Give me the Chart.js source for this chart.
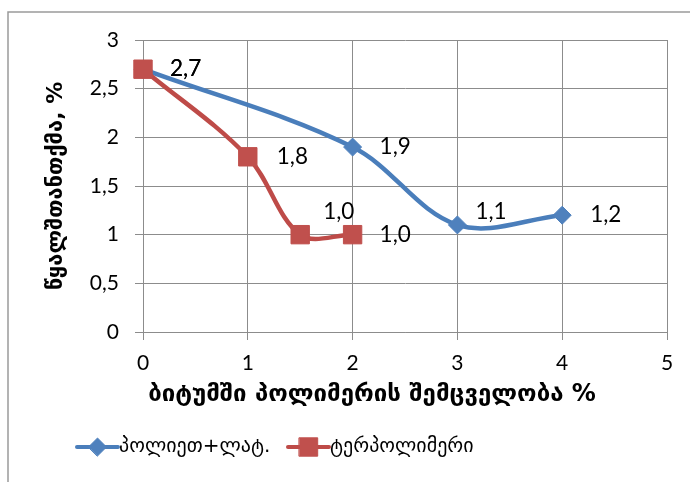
<!DOCTYPE html>
<html>
<head>
<meta charset="utf-8">
<script src="https://cdn.jsdelivr.net/npm/chart.js@4/dist/chart.umd.min.js"></script>
<style>
  html, body { margin: 0; padding: 0; background: #ffffff; }
  #wrap { width: 690px; height: 482px; }
</style>
</head>
<body>
<div id="wrap"><canvas id="c" width="690" height="482"></canvas></div>
<script>
// Polymer content in bitumen (%) vs water absorption (%)
const blueX = [0, 2, 3, 4];
const blueY = [2.7, 1.9, 1.1, 1.2];
const redX = [0, 1, 1.5, 2];
const redY = [2.7, 1.8, 1.0, 1.0];
const seriesNames = ['პოლიეთ+ლატ.', 'ტერპოლიმერი'];
const xTitle = 'ბიტუმში პოლიმერის შემცველობა %';
const yTitle = 'წყალშთანთქმა, %';
const xTickValues = [0, 1, 2, 3, 4, 5];
const yTickValues = [0, 0.5, 1, 1.5, 2, 2.5, 3];

const BLUE_LINE = '#4a7ebb', BLUE_MARK = '#4f81bd';
const RED_LINE = '#be4b48', RED_MARK = '#c0504d';
const GRID = '#8c8c8c';
const NUM_FONT = 'Lato, "DejaVu Sans", sans-serif';
const GEO_FONT = '"DejaVu Sans", sans-serif';

const fmt = v => String(v).replace('.', ',');
const fmt1 = v => v.toFixed(1).replace('.', ',');
const toPoints = (xs, ys) => xs.map((x, i) => ({ x: x, y: ys[i] }));

// outer frame of the chart object
const framePlugin = {
  id: 'frame',
  beforeDraw(chart) {
    const ctx = chart.ctx;
    ctx.save();
    ctx.strokeStyle = '#9a9a9a';
    ctx.lineWidth = 1.5;
    ctx.beginPath();
    ctx.moveTo(8, 482);
    ctx.lineTo(8, 12);
    ctx.lineTo(690, 12);
    ctx.stroke();
    ctx.restore();
  }
};

// value labels next to each marker
const valueLabels = {
  id: 'valueLabels',
  afterDatasetsDraw(chart, args, opts) {
    const ctx = chart.ctx;
    ctx.save();
    ctx.font = '22.5px ' + NUM_FONT;
    ctx.fillStyle = '#000';
    ctx.textAlign = 'left';
    ctx.textBaseline = 'middle';
    chart.data.datasets.forEach((ds, di) => {
      const meta = chart.getDatasetMeta(di);
      const shifts = opts.shifts[di];
      meta.data.forEach((el, i) => {
        const s = shifts[i];
        ctx.fillText(fmt1(ds.data[i].y), el.x + s[0], el.y + s[1]);
      });
    });
    ctx.restore();
  }
};

// x-axis caption and legend row beneath the plot
const captions = {
  id: 'captions',
  afterDraw(chart) {
    const ctx = chart.ctx;
    ctx.save();
    ctx.fillStyle = '#000';
    ctx.textBaseline = 'middle';
    ctx.textAlign = 'center';
    ctx.font = 'bold 24px ' + GEO_FONT;
    ctx.fillText(xTitle, 372, 395);

    const items = [
      { x: 77, line: BLUE_LINE, mark: BLUE_MARK, style: 'rectRot', r: 9 },
      { x: 288, line: RED_LINE, mark: RED_MARK, style: 'rect', r: 13 }
    ];
    const y = 447;
    ctx.font = '20px ' + GEO_FONT;
    ctx.textAlign = 'left';
    items.forEach((it, i) => {
      ctx.strokeStyle = it.line;
      ctx.lineWidth = 4;
      ctx.lineCap = 'round';
      ctx.beginPath();
      ctx.moveTo(it.x, y);
      ctx.lineTo(it.x + 41, y);
      ctx.stroke();
      ctx.fillStyle = it.mark;
      ctx.strokeStyle = it.mark;
      ctx.lineWidth = 1;
      Chart.helpers.drawPoint(ctx, { pointStyle: it.style, radius: it.r, rotation: 0, borderWidth: 1 }, it.x + 20.5, y);
      ctx.fillStyle = '#000';
      ctx.fillText(seriesNames[i], it.x + 42, y);
    });
    ctx.restore();
  }
};

new Chart(document.getElementById('c'), {
  type: 'line',
  data: {
    datasets: [
      {
        label: seriesNames[0],
        data: toPoints(blueX, blueY),
        borderColor: BLUE_LINE,
        backgroundColor: BLUE_MARK,
        borderWidth: 4.5,
        tension: 0.35,
        pointStyle: 'rectRot',
        pointRadius: 9,
        pointHoverRadius: 9,
        pointBackgroundColor: BLUE_MARK,
        pointBorderColor: BLUE_MARK,
        pointBorderWidth: 1,
        clip: false,
        order: 1
      },
      {
        label: seriesNames[1],
        data: toPoints(redX, redY),
        borderColor: RED_LINE,
        backgroundColor: RED_MARK,
        borderWidth: 4.5,
        tension: 0.35,
        pointStyle: 'rect',
        pointRadius: 13,
        pointHoverRadius: 13,
        pointBackgroundColor: RED_MARK,
        pointBorderColor: RED_MARK,
        pointBorderWidth: 1,
        clip: false,
        order: 0
      }
    ]
  },
  options: {
    responsive: false,
    animation: false,
    devicePixelRatio: 1,
    layout: { padding: { left: 0, right: 23, top: 40, bottom: 0 } },
    plugins: {
      legend: { display: false },
      tooltip: { enabled: false },
      valueLabels: {
        shifts: [
          [[27, 0], [27, 0], [18, -13], [28, 0]],
          [[27, 0], [29, 0], [23, -23], [27, 0]]
        ]
      }
    },
    scales: {
      x: {
        type: 'linear',
        min: 0,
        max: 5,
        afterBuildTicks: s => { s.ticks = xTickValues.map(v => ({ value: v })); },
        ticks: {
          callback: v => fmt(v),
          font: { family: NUM_FONT, size: 21 },
          color: '#000',
          padding: 11,
          maxRotation: 0
        },
        grid: { color: GRID, lineWidth: 1, tickLength: 8, tickColor: GRID },
        border: { color: GRID, width: 1 },
        afterFit: s => { s.height = 150; }
      },
      y: {
        type: 'linear',
        min: 0,
        max: 3,
        afterBuildTicks: s => { s.ticks = yTickValues.map(v => ({ value: v })); },
        ticks: {
          callback: v => fmt(v),
          font: { family: NUM_FONT, size: 21 },
          color: '#000',
          padding: 16
        },
        grid: { color: GRID, lineWidth: 1, tickLength: 8, tickColor: GRID },
        border: { color: GRID, width: 1 },
        title: {
          display: true,
          text: yTitle,
          color: '#000',
          font: { family: GEO_FONT, size: 22, weight: 'bold' },
          padding: { top: 43, bottom: 0 }
        },
        afterFit: s => { s.width = 143; }
      }
    }
  },
  plugins: [framePlugin, valueLabels, captions]
});
</script>
</body>
</html>
